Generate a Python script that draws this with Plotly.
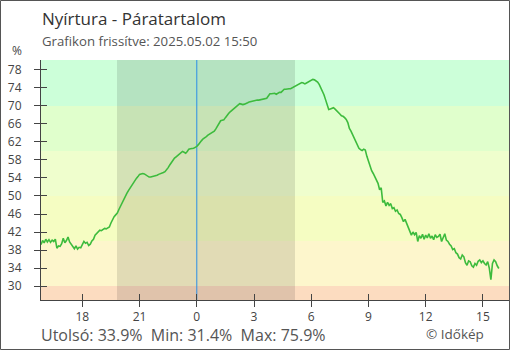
import pandas as pd
import plotly.graph_objects as go

# ---- data (5-minute readings, 2025-05-01 15:50 -> 2025-05-02 15:50) ----
START = "2025-05-01 15:50"
STEP = "5min"
humidity = [
    39.2, 40.1, 39.6, 40.4, 39.8, 40.3, 39.7, 40.2, 39.9, 40.4, 38.4, 38.9,
    38.8, 39.4, 40.6, 39.6, 40.1, 40.9, 39.8, 39.2, 38.7, 38.3, 38.9, 38.2,
    38.6, 38.5, 39.2, 39.9, 39.5, 39.7, 39.0, 39.3, 40.0, 40.4, 41.3, 41.6,
    41.9, 42.4, 42.3, 42.6, 42.8, 42.7, 43.0, 43.1, 44.0, 44.9, 45.4, 45.8,
    46.2, 47.0, 47.8, 48.5, 49.2, 49.9, 50.6, 51.2, 51.8, 52.3, 52.9, 53.5,
    53.9, 54.3, 54.8, 54.9, 55.0, 54.9, 54.6, 54.4, 54.2, 54.2, 54.3, 54.4,
    54.4, 54.6, 54.8, 54.9, 55.1, 55.2, 55.4, 55.8, 56.3, 56.9, 57.5, 58.0,
    58.4, 58.7, 59.0, 59.2, 59.6, 59.9, 59.7, 59.5, 59.9, 60.4, 60.5, 60.5,
    60.6, 60.8, 61.0, 61.4, 62.0, 62.3, 62.7, 62.9, 63.2, 63.5, 63.7, 63.9,
    64.2, 64.4, 64.9, 65.5, 66.1, 66.7, 66.8, 66.9, 67.4, 68.0, 68.3, 68.7,
    69.0, 69.4, 69.7, 70.0, 70.4, 70.5, 70.4, 70.3, 70.4, 70.5, 70.7, 70.9,
    71.0, 71.0, 71.1, 71.2, 71.3, 71.3, 71.4, 71.5, 71.5, 71.6, 71.7, 72.2,
    72.7, 72.7, 72.8, 72.8, 72.6, 72.9, 73.0, 73.0, 73.4, 73.7, 73.7, 73.8,
    73.8, 73.8, 74.0, 74.3, 74.5, 74.7, 74.8, 75.0, 75.2, 75.1, 74.9, 75.1,
    75.3, 75.6, 75.7, 75.9, 75.8, 75.6, 75.3, 74.8, 74.1, 73.4, 72.5, 71.4,
    70.0, 69.2, 69.3, 69.4, 69.6, 69.3, 69.0, 68.6, 68.2, 67.8, 67.7, 67.4,
    67.0, 66.3, 65.0, 64.4, 63.6, 63.2, 62.4, 61.5, 60.6, 60.3, 60.1, 60.4,
    60.2, 58.8, 57.6, 56.6, 55.6, 55.0, 54.3, 53.6, 52.8, 51.4, 51.8, 48.6,
    48.9, 47.8, 48.6, 47.9, 48.3, 47.2, 47.4, 46.6, 46.9, 46.1, 45.9, 45.2,
    44.3, 44.8, 43.9, 43.2, 42.1, 41.3, 42.0, 41.4, 41.9, 39.9, 41.2, 40.6,
    41.5, 40.4, 41.3, 40.7, 41.6, 40.6, 41.1, 40.3, 41.4, 40.8, 41.0, 41.5,
    39.9, 40.8, 41.6, 40.2, 39.9, 39.3, 38.9, 38.1, 38.3, 37.4, 37.1, 36.3,
    36.0, 36.9, 36.5, 35.2, 34.6, 35.6, 35.4, 34.5, 34.2, 35.0, 34.6, 35.5,
    35.8, 35.2, 35.6, 35.0, 34.7, 35.4, 34.0, 31.4, 35.0, 35.8, 35.4, 34.5,
    33.9,
]

SUNSET = "2025-05-01 19:49"
SUNRISE = "2025-05-02 05:09"
MIDNIGHT = "2025-05-02 00:00"
X_RANGE = ["2025-05-01 15:50", "2025-05-02 16:22"]
Y_RANGE = [26.9, 80.2]
Y_TICKS = [30, 34, 38, 42, 46, 50, 54, 58, 62, 66, 70, 74, 78]

band_edges = [Y_RANGE[0], 30, 40, 50, 60, 70, Y_RANGE[1]]
band_colors = ["#fcdcc0", "#fdf6cc", "#f5fdc2", "#effecd", "#e0ffcc", "#ccffd9"]

TITLE = "Nyírtura - Páratartalom"
SUBTITLE = "Grafikon frissítve: 2025.05.02 15:50"
CREDIT = "© Időkép"

times = pd.date_range(START, periods=len(humidity), freq=STEP)

W, H = 510, 350
ML, MR, MT, MB = 41, 1, 60, 50
PW, PH = W - ML - MR, H - MT - MB


def px_x(p):
    return (p - ML) / PW


def px_y(p):
    return (H - MB - p) / PH


FONT = "Open Sans"
fig = go.Figure()
fig.add_trace(go.Scatter(x=times, y=humidity, mode="lines",
                         line=dict(color="#3dbb3d", width=1.6), hoverinfo="skip"))
# invisible helper for overlay axes (inside ticks)
fig.add_trace(go.Scatter(x=[times[0]], y=[humidity[0]], xaxis="x2", yaxis="y2",
                         mode="markers", marker=dict(opacity=0), hoverinfo="skip"))

shapes = []
for lo, hi, c in zip(band_edges[:-1], band_edges[1:], band_colors):
    shapes.append(dict(type="rect", xref="paper", yref="y", x0=0, x1=1, y0=lo, y1=hi,
                       fillcolor=c, line=dict(width=0), layer="below"))
shapes.append(dict(type="rect", xref="x", yref="paper", x0=SUNSET, x1=SUNRISE, y0=0, y1=1,
                   fillcolor="rgba(0,0,0,0.11)", line=dict(width=0), layer="below"))
shapes.append(dict(type="line", xref="x", yref="paper", x0=MIDNIGHT, x1=MIDNIGHT, y0=0, y1=1,
                   line=dict(color="#2a8fe6", width=1), layer="below"))
# outer frame
shapes.append(dict(type="rect", xref="paper", yref="paper",
                   x0=px_x(0.5), x1=px_x(W - 0.5), y0=px_y(H - 0.5), y1=px_y(0.5),
                   line=dict(color="#555555", width=1), fillcolor="rgba(0,0,0,0)"))

last_v, min_v, max_v = humidity[-1], min(humidity), max(humidity)
stats = f"Utolsó: {last_v:.1f}%\u00a0\u00a0Min: {min_v:.1f}%\u00a0\u00a0Max: {max_v:.1f}%"

annotations = [
    dict(text=TITLE, x=px_x(40), y=px_y(18.5), xanchor="left", yanchor="middle",
         font=dict(family=FONT, size=17, color="#333333")),
    dict(text=SUBTITLE, x=px_x(40), y=px_y(41), xanchor="left", yanchor="middle",
         font=dict(family=FONT, size=13.2, color="#555555")),
    dict(text="%", x=px_x(17), y=px_y(51), xanchor="center", yanchor="middle",
         font=dict(family=FONT, size=12, color="#444444")),
    dict(text=stats, x=px_x(40), y=px_y(335), xanchor="left", yanchor="middle",
         font=dict(family=FONT, size=16, color="#555555"), borderpad=0),
    dict(text=CREDIT, x=px_x(425), y=px_y(334), xanchor="left", yanchor="middle",
         font=dict(family=FONT, size=13.5, color="#555555"), borderpad=0),
]
for a in annotations:
    a.update(xref="paper", yref="paper", showarrow=False)

common_x = dict(type="date", range=X_RANGE, tick0="2025-05-01 00:00", dtick=3 * 3600 * 1000,
                tickformat="%-H", showgrid=False, zeroline=False, ticklen=6, tickwidth=1,
                tickcolor="#444444")
common_y = dict(range=Y_RANGE, tickvals=Y_TICKS, showgrid=False, zeroline=False,
                ticklen=6, tickwidth=1, tickcolor="#444444")

fig.update_layout(
    width=W, height=H, margin=dict(l=ML, r=MR, t=MT, b=MB, pad=0),
    paper_bgcolor="white", plot_bgcolor="white", showlegend=False,
    font=dict(family=FONT, size=12, color="#444444"),
    xaxis=dict(**common_x, ticks="outside", showline=True, linecolor="#444444", linewidth=1,
               tickfont=dict(family=FONT, size=12, color="#444444")),
    yaxis=dict(**common_y, ticks="outside", showline=True, linecolor="#444444", linewidth=1,
               tickfont=dict(family=FONT, size=12, color="#444444"), ticklabelstandoff=10),
    xaxis2=dict(**common_x, overlaying="x", side="bottom", anchor="y", ticks="inside",
                showticklabels=False, showline=False),
    yaxis2=dict(**common_y, overlaying="y", side="left", anchor="x", ticks="inside",
                showticklabels=False, showline=False),
    shapes=shapes, annotations=annotations,
)

fig.write_html("out.html", config={"displayModeBar": False})
